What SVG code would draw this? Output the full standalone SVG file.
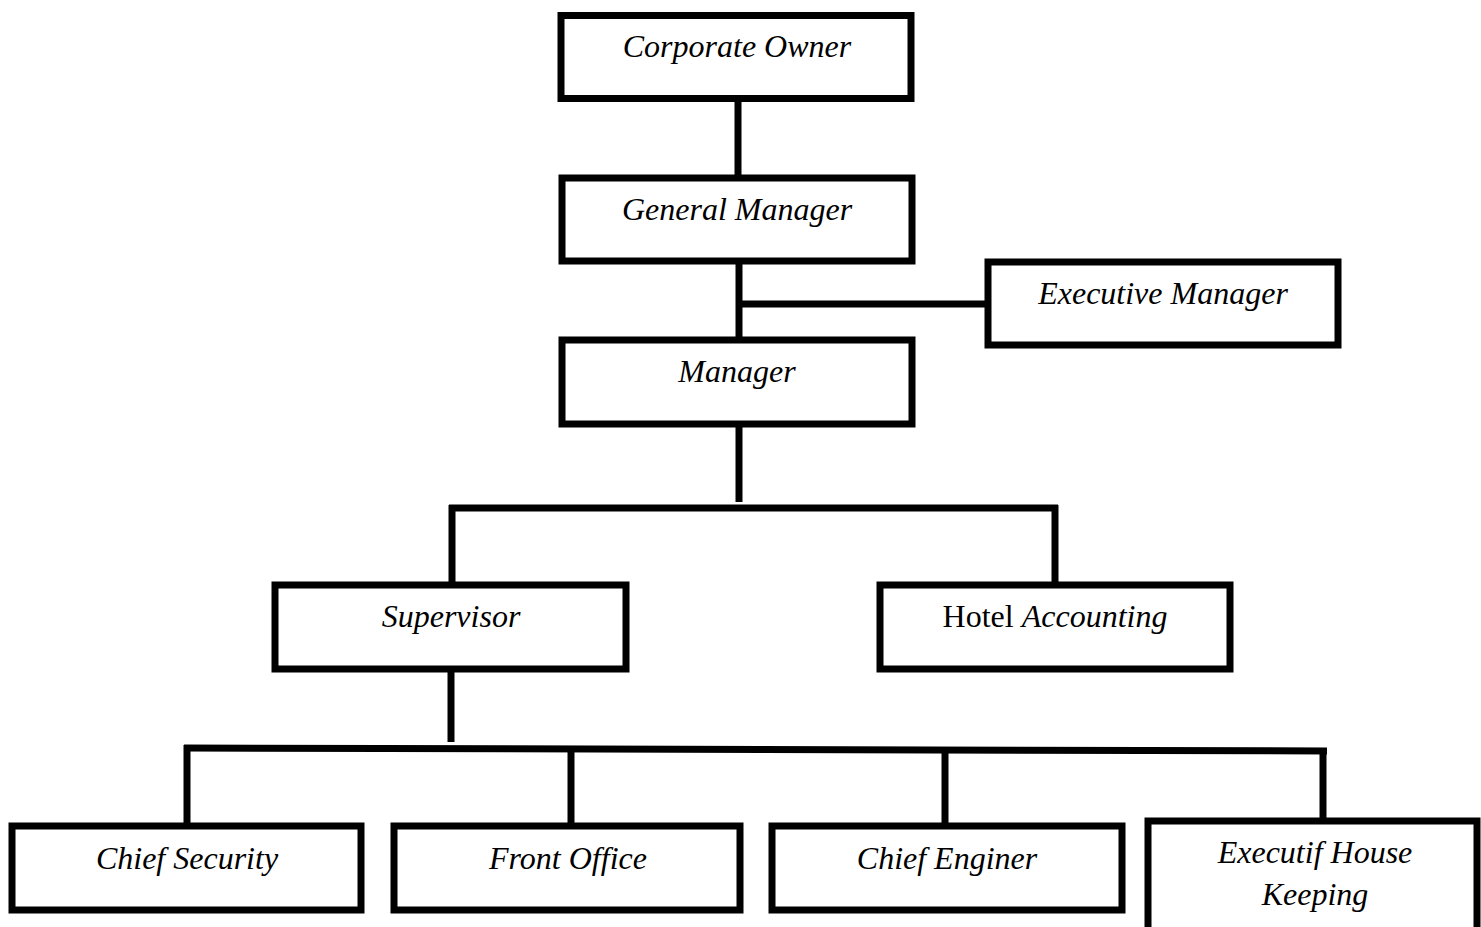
<svg xmlns="http://www.w3.org/2000/svg" width="1481" height="927" viewBox="0 0 1481 927">
<style>
.box{fill:#fff;stroke:#000;stroke-width:7}
.ln{stroke:#000;stroke-width:7;fill:none;stroke-linecap:butt}
text{font-family:"Liberation Serif","Times New Roman",serif;font-size:32px;font-style:italic;fill:#000;text-anchor:middle}
.up{font-style:normal}
</style>
<rect width="1481" height="927" fill="#fff"/>
<g id="connectors">
<line class="ln" x1="738" y1="100" x2="738" y2="178"/>
<line class="ln" x1="739" y1="258" x2="739" y2="338"/>
<line class="ln" x1="739" y1="304" x2="990" y2="304"/>
<line class="ln" x1="739" y1="426" x2="739" y2="502"/>
<line class="ln" x1="449" y1="508" x2="1058" y2="508"/>
<line class="ln" x1="452" y1="505" x2="452" y2="584"/>
<line class="ln" x1="1055" y1="505" x2="1055" y2="582"/>
<line class="ln" x1="451" y1="664" x2="451" y2="742"/>
<line class="ln" x1="184" y1="748" x2="1327" y2="751"/>
<line class="ln" x1="187" y1="745" x2="187" y2="824"/>
<line class="ln" x1="571" y1="748" x2="571" y2="824"/>
<line class="ln" x1="945" y1="750" x2="945" y2="828"/>
<line class="ln" x1="1323" y1="748" x2="1323" y2="825"/>
</g>
<g id="corporate-owner"><rect class="box" x="561" y="15.5" width="350" height="83"/><text x="737" y="57">Corporate Owner</text></g>
<g id="general-manager"><rect class="box" x="562" y="178" width="350" height="83"/><text x="737" y="220">General Manager</text></g>
<g id="executive-manager"><rect class="box" x="988" y="262" width="350" height="83"/><text x="1163" y="304">Executive Manager</text></g>
<g id="manager"><rect class="box" x="562" y="340" width="350" height="84"/><text x="737" y="382">Manager</text></g>
<g id="supervisor"><rect class="box" x="275" y="585" width="351" height="84"/><text x="451" y="627">Supervisor</text></g>
<g id="hotel-accounting"><rect class="box" x="880" y="585" width="350" height="84"/><text x="1055" y="627"><tspan class="up">Hotel </tspan>Accounting</text></g>
<g id="chief-security"><rect class="box" x="12" y="826" width="349" height="84"/><text x="187" y="869">Chief Security</text></g>
<g id="front-office"><rect class="box" x="394" y="826" width="346" height="84"/><text x="568" y="869">Front Office</text></g>
<g id="chief-enginer"><rect class="box" x="772" y="826" width="350" height="84"/><text x="947" y="869">Chief Enginer</text></g>
<g id="executif-house-keeping"><rect class="box" x="1148" y="821" width="329" height="130"/><text x="1315" y="863">Executif House</text><text x="1315" y="905">Keeping</text></g>
</svg>
